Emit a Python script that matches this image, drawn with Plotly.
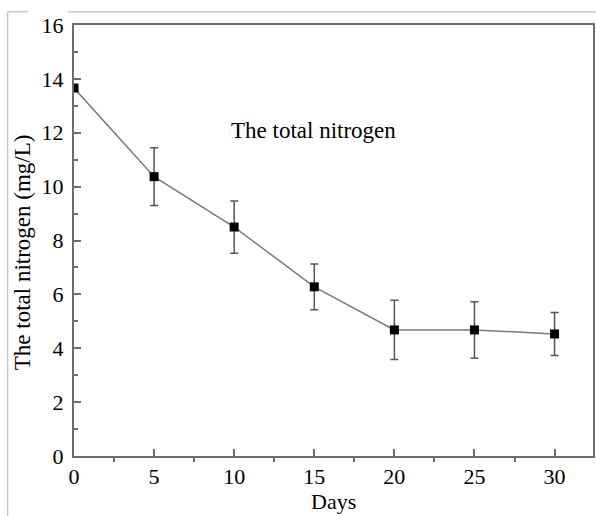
import plotly.graph_objects as go

days = [0, 5, 10, 15, 20, 25, 30]
nitrogen = [13.66, 10.37, 8.5, 6.28, 4.68, 4.68, 4.53]
err = [0.0, 1.07, 0.97, 0.85, 1.1, 1.05, 0.8]

x_ticks = [0, 5, 10, 15, 20, 25, 30]
y_ticks = [0, 2, 4, 6, 8, 10, 12, 14, 16]

FONT = "Liberation Serif"
AX = "#6e6e6e"

fig = go.Figure()
fig.add_trace(go.Scatter(
    x=days, y=nitrogen, mode="lines+markers",
    line=dict(color="#7a7a7a", width=1.5),
    marker=dict(symbol="square", size=9, color="black"),
    error_y=dict(type="data", array=err, visible=True, color="#555555",
                 thickness=1.5, width=4),
    showlegend=False,
))

fig.add_annotation(x=9.7, y=12.1, xref="x", yref="y", xanchor="left",
                   text="The total nitrogen", showarrow=False,
                   font=dict(family=FONT, size=23, color="black"))

# y-axis title placed as rotated text
fig.add_annotation(x=-0.1, y=0.473, xref="paper", yref="paper",
                   xanchor="center", yanchor="middle", textangle=-90,
                   text="The total nitrogen (mg/L)", showarrow=False,
                   font=dict(family=FONT, size=23, color="#000000"))

# x-axis title placed as text below the axis
fig.add_annotation(x=0.5, y=-0.106, xref="paper", yref="paper",
                   xanchor="center", yanchor="middle",
                   text="Days", showarrow=False,
                   font=dict(family=FONT, size=22, color="#000000"))

# light frame around the figure (screenshot border)
for x0, x1 in [(-0.128, -0.089), (-0.012, 1.01)]:
    fig.add_shape(type="line", xref="paper", yref="paper",
                  x0=x0, x1=x1, y0=1.031, y1=1.031,
                  line=dict(color="#c8c8c8", width=1.5))
fig.add_shape(type="line", xref="paper", yref="paper",
              x0=-0.128, x1=-0.128, y0=1.031, y1=-0.2,
              line=dict(color="#c8c8c8", width=1.5))

fig.update_layout(
    width=596, height=516,
    margin=dict(l=74, r=3, t=25, b=60, autoexpand=False),
    paper_bgcolor="white", plot_bgcolor="white",
    font=dict(family=FONT, color="black"),
    xaxis=dict(
        range=[0, 32.4], tickvals=x_ticks, ticktext=[str(v) for v in x_ticks],
        ticks="inside", ticklen=7, tickwidth=2, tickcolor=AX,
        showline=True, linecolor=AX, linewidth=2, mirror=True,
        showgrid=False, zeroline=False, ticklabelstandoff=0, automargin=False,
        tickfont=dict(family=FONT, size=22),
        minor=dict(tickvals=[2.5, 7.5, 12.5, 17.5, 22.5, 27.5, 32.4], ticks="outside",
                   ticklen=4, tickwidth=2, tickcolor=AX, showgrid=False),
    ),
    yaxis=dict(
        range=[0, 16], tickvals=y_ticks, ticktext=[str(v) for v in y_ticks],
        ticks="inside", ticklen=7, tickwidth=2, tickcolor=AX,
        showline=True, linecolor=AX, linewidth=2, mirror=True,
        showgrid=False, zeroline=False, ticklabelstandoff=4, automargin=False,
        tickfont=dict(family=FONT, size=22),
        minor=dict(tickvals=[1, 3, 5, 7, 9, 11, 13, 15], ticks="inside",
                   ticklen=4, tickwidth=2, tickcolor=AX, showgrid=False),
    ),
)

fig.write_html("out.html")
